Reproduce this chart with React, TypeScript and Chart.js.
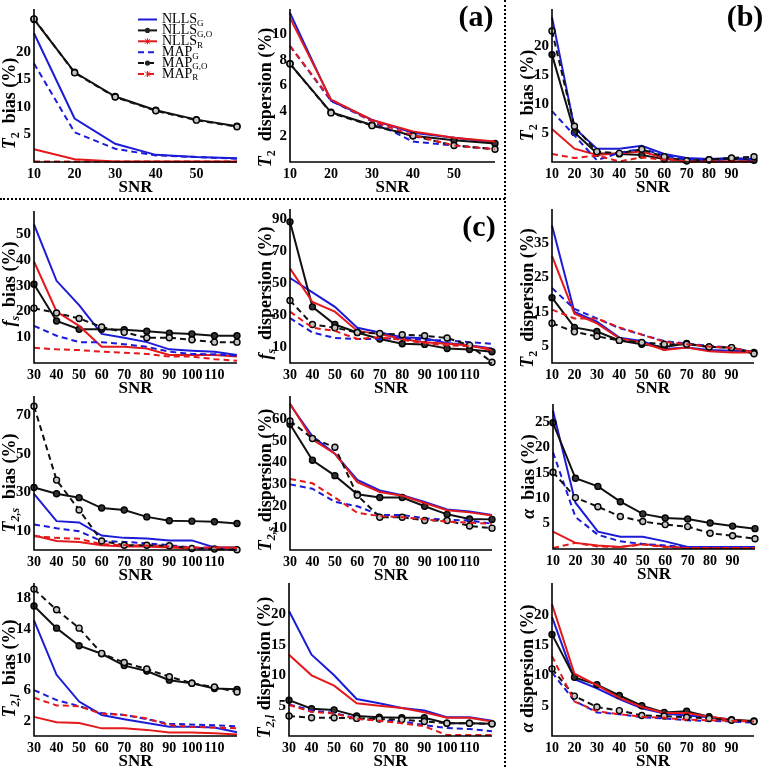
import React, { useEffect, useRef } from 'react';
import { Chart, registerables } from 'chart.js';

Chart.register(...registerables);

// ---------- shared axes ----------
const SNR_A = [10, 20, 30, 40, 50, 60];
const SNR_B = [10, 20, 30, 40, 50, 60, 70, 80, 90, 100];
const SNR_C = [30, 40, 50, 60, 70, 80, 90, 100, 110, 120];
const X_TICKS_A = [10, 20, 30, 40, 50];
const X_TICKS_B = [10, 20, 30, 40, 50, 60, 70, 80, 90];
const X_TICKS_C = [30, 40, 50, 60, 70, 80, 90, 100, 110];

// ---------- (a) T2 bias / dispersion ----------
const a1NllsG = [23.4, 7.9, 3.3, 1.3, 0.9, 0.7];
const a1NllsGO = [25.9, 16.3, 11.9, 9.4, 7.7, 6.5];
const a1NllsR = [2.3, 0.5, 0.1, 0.1, 0.1, 0.1];
const a1MapG = [17.9, 5.4, 2.4, 1.2, 0.9, 0.6];
const a1MapGO = [26.0, 16.2, 11.8, 9.3, 7.6, 6.4];
const a1MapR = [0.1, 0.1, 0.1, 0.1, 0.1, 0.1];
const a1YTicks = [5, 10, 15, 20];

const a2NllsG = [11.7, 4.8, 3.3, 2.3, 1.9, 1.55];
const a2NllsGO = [7.7, 3.9, 2.9, 2.05, 1.7, 1.45];
const a2NllsR = [11.3, 4.9, 3.3, 2.4, 1.9, 1.6];
const a2MapG = [9.1, 4.8, 3.2, 1.6, 1.3, 1.0];
const a2MapGO = [7.7, 3.85, 2.85, 2.05, 1.3, 1.0];
const a2MapR = [9.1, 4.9, 3.2, 2.1, 1.3, 1.0];
const a2YTicks = [2, 4, 6, 8, 10];

// ---------- (b) T2 bias, T2 dispersion, alpha bias, alpha dispersion ----------
const b1NllsG = [25.1, 5.9, 2.3, 2.3, 2.8, 1.4, 0.7, 0.5, 0.7, 0.5];
const b1NllsGO = [18.6, 5.1, 1.5, 1.4, 1.2, 0.5, 0.2, 0.4, 0.5, 0.3];
const b1NllsR = [5.7, 2.3, 1.2, 1.5, 1.8, 0.7, 0.1, 0.1, 0.1, 0.1];
const b1MapG = [8.8, 4.6, 0.3, 1.6, 2.3, 1.1, 0.4, 0.3, 0.5, 0.4];
const b1MapGO = [22.7, 6.2, 1.8, 1.5, 2.2, 0.9, 0.2, 0.4, 0.7, 0.9];
const b1MapR = [1.4, 0.7, 1.1, 0.1, 0.8, 0.4, 0.1, 0.1, 0.1, 0.1];
const b1YTicks = [5, 10, 15, 20];

const b2NllsG = [40.2, 14.9, 12.1, 7.4, 6.4, 4.1, 4.5, 3.8, 3.6, 3.3];
const b2NllsGO = [19.1, 10.4, 9.2, 6.6, 5.5, 4.7, 5.7, 4.7, 4.5, 3.1];
const b2NllsR = [31.3, 14.4, 11.6, 7.2, 6.0, 3.8, 4.5, 3.4, 3.1, 3.1];
const b2MapG = [21.9, 15.8, 13.0, 10.2, 8.3, 6.4, 5.7, 5.0, 4.5, 3.1];
const b2MapGO = [11.6, 9.1, 7.8, 6.6, 6.0, 5.5, 5.5, 4.7, 4.5, 2.7];
const b2MapR = [15.6, 13.0, 13.0, 10.4, 8.3, 6.2, 5.5, 4.8, 4.4, 3.1];
const b2YTicks = [5, 15, 25, 35];

const b3NllsG = [27.2, 9.1, 3.4, 2.4, 2.4, 1.5, 0.4, 0.4, 0.4, 0.4];
const b3NllsGO = [24.8, 13.9, 12.3, 9.3, 6.9, 6.1, 5.9, 5.1, 4.5, 4.0];
const b3NllsR = [3.4, 1.2, 0.7, 0.4, 1.0, 0.5, 0.2, 0.2, 0.2, 0.2];
const b3MapG = [19.0, 6.3, 2.8, 1.5, 1.0, 0.7, 0.4, 0.4, 0.4, 0.4];
const b3MapGO = [15.1, 10.1, 8.3, 6.4, 5.4, 4.8, 4.4, 3.1, 2.6, 2.0];
const b3MapR = [0.2, 1.2, 0.5, 0.4, 0.9, 0.4, 0.2, 0.2, 0.2, 0.2];
const b3YTicks = [5, 10, 15, 20, 25];

const b4NllsG = [19.7, 9.4, 7.9, 6.1, 4.6, 3.7, 3.4, 3.1, 2.6, 2.4];
const b4NllsGO = [16.8, 9.7, 8.5, 6.7, 5.0, 3.9, 4.1, 3.2, 2.7, 2.5];
const b4NllsR = [21.8, 10.3, 8.4, 6.3, 4.8, 3.8, 3.8, 3.2, 2.7, 2.4];
const b4MapG = [10.5, 5.8, 3.9, 3.6, 3.1, 2.9, 2.6, 2.5, 2.4, 2.2];
const b4MapGO = [11.1, 6.6, 4.8, 4.2, 3.4, 3.3, 3.1, 2.9, 2.6, 2.4];
const b4MapR = [13.2, 5.7, 4.1, 3.6, 3.2, 3.0, 2.7, 2.6, 2.5, 2.4];
const b4YTicks = [5, 10, 15, 20];

// ---------- (c) fs, T2,s, T2,l ----------
const c1NllsG = [53.8, 31.9, 22.5, 11.3, 9.8, 8.1, 5.3, 4.8, 4.4, 3.1];
const c1NllsGO = [30.6, 16.3, 13.1, 13.1, 12.9, 12.3, 11.6, 11.3, 10.6, 10.6];
const c1NllsR = [39.4, 20.0, 14.4, 6.3, 6.3, 5.6, 3.1, 3.1, 3.1, 2.5];
const c1MapG = [14.4, 10.6, 8.1, 8.1, 7.3, 6.3, 4.4, 3.5, 3.4, 2.8];
const c1MapGO = [21.3, 19.4, 17.3, 14.0, 11.9, 9.8, 9.8, 9.0, 8.1, 8.1];
const c1MapR = [5.9, 5.3, 5.0, 4.4, 4.0, 3.5, 2.5, 2.5, 1.5, 0.9];
const c1YTicks = [10, 20, 30, 40, 50];

const c2NllsG = [53, 44, 35, 22, 19, 16, 15.4, 12.4, 11, 9];
const c2NllsGO = [88, 35, 24, 19, 15, 12, 11.6, 9, 8.4, 7];
const c2NllsR = [59, 38, 32, 20, 18, 15, 13, 12, 11, 8];
const c2MapG = [28, 19, 15.6, 15, 15, 15.6, 14.4, 14, 13, 12];
const c2MapGO = [39, 24, 22, 19, 18.4, 17.6, 17, 15.6, 11, 0.5];
const c2MapR = [32, 22, 20, 15, 16, 14.4, 12.4, 11, 10.4, 9];
const c2YTicks = [10, 30, 50, 70, 90];

const c3NllsG = [29.2, 15.0, 14.3, 7.5, 6.3, 6.0, 5.0, 5.0, 1.3, 1.3];
const c3NllsGO = [32.5, 29.2, 27.2, 21.8, 20.8, 17.2, 15.2, 15.0, 14.7, 13.8];
const c3NllsR = [7.5, 4.7, 4.2, 2.5, 1.8, 1.8, 1.3, 0.8, 1.3, 1.3];
const c3MapG = [13.3, 11.3, 9.7, 4.7, 4.2, 3.5, 2.5, 1.3, 0.8, 0.5];
const c3MapGO = [74.7, 36.3, 20.8, 4.7, 2.5, 2.5, 2.2, 0.8, 0.5, 0.1];
const c3MapR = [7.2, 6.3, 5.8, 3.0, 2.5, 2.2, 1.8, 1.3, 1.3, 1.0];
const c3YTicks = [10, 30, 50, 70];

const c4NllsG = [66.5, 52, 44, 32, 27.2, 25, 22, 18.5, 17.6, 16];
const c4NllsGO = [57.5, 41, 34, 25.5, 24, 24, 20, 16.3, 14.2, 14];
const c4NllsR = [67, 50.5, 44, 31, 26.5, 24.8, 21.5, 18.2, 17.2, 15.8];
const c4MapG = [30, 28, 22, 20, 16, 16, 14.5, 13.8, 13.5, 12];
const c4MapGO = [59, 51, 47, 25, 15, 15, 13.5, 13.5, 11, 10];
const c4MapR = [32.5, 30.5, 24, 17, 15.5, 15, 14, 13, 12.5, 12];
const c4YTicks = [10, 20, 30, 40, 50, 60];

const c5NllsG = [15.1, 8.0, 4.5, 2.75, 2.2, 1.7, 1.2, 1.2, 1.1, 0.5];
const c5NllsGO = [17.0, 14.1, 11.8, 10.75, 9.2, 8.5, 7.3, 6.9, 6.2, 6.1];
const c5NllsR = [2.5, 1.8, 1.7, 1.0, 1.0, 0.8, 0.45, 0.45, 0.35, 0.2];
const c5MapG = [6.0, 4.7, 3.9, 3.0, 2.75, 2.2, 1.6, 1.5, 1.4, 1.25];
const c5MapGO = [19.2, 16.5, 14.1, 10.8, 9.6, 8.75, 7.75, 6.9, 6.4, 5.75];
const c5MapR = [5.0, 4.0, 3.9, 2.9, 2.75, 2.3, 1.4, 1.2, 1.1, 1.0];
const c5YTicks = [2, 6, 10, 14, 18];

const c6NllsG = [20.6, 13.4, 10.0, 6.1, 5.4, 4.6, 4.2, 3.1, 3.1, 2.5];
const c6NllsGO = [5.9, 4.5, 4.3, 3.3, 3.1, 3.0, 3.0, 2.1, 2.1, 2.0];
const c6NllsR = [13.4, 10.0, 8.3, 5.4, 5.0, 4.6, 3.9, 3.0, 3.0, 2.4];
const c6MapG = [5.2, 4.2, 3.8, 2.9, 2.6, 2.4, 1.8, 1.3, 1.15, 0.8];
const c6MapGO = [3.3, 3.0, 3.0, 2.9, 2.8, 2.7, 2.4, 2.1, 2.1, 2.0];
const c6MapR = [5.1, 4.0, 3.7, 2.8, 2.5, 2.1, 1.6, 0.15, 0.15, 0.15];
const c6YTicks = [5, 10, 15, 20];

// ---------- text ----------
const LEGEND_NAMES: [string, string][] = [
  ['NLLS', 'G'], ['NLLS', 'G,O'], ['NLLS', 'R'], ['MAP', 'G'], ['MAP', 'G,O'], ['MAP', 'R'],
];
type Part = [string, string];
const T_T2_BIAS: Part[] = [['T', 'i'], ['2', 's'], ['  bias (%)', '']];
const T_T2_DISP: Part[] = [['T', 'i'], ['2', 's'], ['  dispersion (%)', '']];
const T_FS_BIAS: Part[] = [['f', 'i'], ['s', 'si'], ['  bias (%)', '']];
const T_FS_DISP: Part[] = [['f', 'i'], ['s', 'si'], ['  dispersion (%)', '']];
const T_T2S_BIAS: Part[] = [['T', 'i'], ['2,s', 'si'], ['  bias (%)', '']];
const T_T2S_DISP: Part[] = [['T', 'i'], ['2,s', 'si'], [' dispersion (%)', '']];
const T_T2L_BIAS: Part[] = [['T', 'i'], ['2,l', 'si'], ['  bias (%)', '']];
const T_T2L_DISP: Part[] = [['T', 'i'], ['2,l', 'si'], [' dispersion (%)', '']];
const T_A_BIAS: Part[] = [['α', 'i'], ['  bias (%)', '']];
const T_A_DISP: Part[] = [['α', 'i'], [' dispersion (%)', '']];

// ---------- styling ----------
const FONT = '"Liberation Serif", "Times New Roman", Times, serif';
const BLUE = '#1c1cd8';
const RED = '#e3191b';
const BLACK = '#111111';
const DASH = [6, 4];
const STYLES = [
  { color: BLUE, dash: [], marker: '' },
  { color: BLACK, dash: [], marker: 'filled' },
  { color: RED, dash: [], marker: '' },
  { color: BLUE, dash: DASH, marker: '' },
  { color: BLACK, dash: DASH, marker: 'open' },
  { color: RED, dash: DASH, marker: '' },
];

const YW = 34; // y-axis band width
const XH = 36; // x-axis band height
const PT = 6;
const PR = 8;

type PanelCfg = {
  box: [number, number, number, number];
  titleShift: number;
  snr: number[];
  xTicks: number[];
  yMax: number;
  yTicks: number[];
  title: Part[];
  series: number[][];
  legend?: boolean;
};

const PANELS: PanelCfg[] = [
  { box: [34, 3, 237, 162], titleShift: 18, snr: SNR_A, xTicks: X_TICKS_A, yMax: 27.8, yTicks: a1YTicks, title: T_T2_BIAS,
    series: [a1NllsG, a1NllsGO, a1NllsR, a1MapG, a1MapGO, a1MapR], legend: true },
  { box: [290, 3, 495, 162], titleShift: 12, snr: SNR_A, xTicks: X_TICKS_A, yMax: 12, yTicks: a2YTicks, title: T_T2_DISP,
    series: [a2NllsG, a2NllsGO, a2NllsR, a2MapG, a2MapGO, a2MapR] },
  { box: [552, 3, 754, 162], titleShift: 10, snr: SNR_B, xTicks: X_TICKS_B, yMax: 26.5, yTicks: b1YTicks, title: T_T2_BIAS,
    series: [b1NllsG, b1NllsGO, b1NllsR, b1MapG, b1MapGO, b1MapR] },
  { box: [34, 205, 237, 363], titleShift: -3, snr: SNR_C, xTicks: X_TICKS_C, yMax: 59, yTicks: c1YTicks, title: T_FS_BIAS,
    series: [c1NllsG, c1NllsGO, c1NllsR, c1MapG, c1MapGO, c1MapR] },
  { box: [290, 203, 492, 363], titleShift: 7, snr: SNR_C, xTicks: X_TICKS_C, yMax: 96, yTicks: c2YTicks, title: T_FS_DISP,
    series: [c2NllsG, c2NllsGO, c2NllsR, c2MapG, c2MapGO, c2MapR] },
  { box: [552, 203, 754, 363], titleShift: 12, snr: SNR_B, xTicks: X_TICKS_B, yMax: 45, yTicks: b2YTicks, title: T_T2_DISP,
    series: [b2NllsG, b2NllsGO, b2NllsR, b2MapG, b2MapGO, b2MapR] },
  { box: [34, 390, 237, 550], titleShift: 10, snr: SNR_C, xTicks: X_TICKS_C, yMax: 80, yTicks: c3YTicks, title: T_T2S_BIAS,
    series: [c3NllsG, c3NllsGO, c3NllsR, c3MapG, c3MapGO, c3MapR] },
  { box: [290, 390, 492, 550], titleShift: 7, snr: SNR_C, xTicks: X_TICKS_C, yMax: 70.4, yTicks: c4YTicks, title: T_T2S_DISP,
    series: [c4NllsG, c4NllsGO, c4NllsR, c4MapG, c4MapGO, c4MapR] },
  { box: [553, 398, 755, 549], titleShift: 0, snr: SNR_B, xTicks: X_TICKS_B, yMax: 28.5, yTicks: b3YTicks, title: T_A_BIAS,
    series: [b3NllsG, b3NllsGO, b3NllsR, b3MapG, b3MapGO, b3MapR] },
  { box: [34, 577, 237, 736], titleShift: 9, snr: SNR_C, xTicks: X_TICKS_C, yMax: 20, yTicks: c5YTicks, title: T_T2L_BIAS,
    series: [c5NllsG, c5NllsGO, c5NllsR, c5MapG, c5MapGO, c5MapR] },
  { box: [289, 577, 492, 736], titleShift: 8, snr: SNR_C, xTicks: X_TICKS_C, yMax: 25.2, yTicks: c6YTicks, title: T_T2L_DISP,
    series: [c6NllsG, c6NllsGO, c6NllsR, c6MapG, c6MapGO, c6MapR] },
  { box: [552, 577, 754, 736], titleShift: 9, snr: SNR_B, xTicks: X_TICKS_B, yMax: 25.3, yTicks: b4YTicks, title: T_A_DISP,
    series: [b4NllsG, b4NllsGO, b4NllsR, b4MapG, b4MapGO, b4MapR] },
];

function drawRich(ctx: CanvasRenderingContext2D, parts: Part[], x: number, y: number, size: number, bold: boolean) {
  const segs = parts.map(([t, f]) => {
    const sub = f.includes('s');
    const it = f.includes('i');
    const sz = sub ? Math.round(size * 0.68) : size;
    const font = `${it ? 'italic ' : ''}${bold ? 'bold ' : ''}${sz}px ${FONT}`;
    ctx.font = font;
    return { t, font, w: ctx.measureText(t).width, dy: sub ? size * 0.32 : 0 };
  });
  const total = segs.reduce((s, g) => s + g.w, 0);
  let cx = x - total / 2;
  ctx.textAlign = 'left';
  ctx.textBaseline = 'middle';
  for (const g of segs) {
    ctx.font = g.font;
    ctx.fillText(g.t, cx, y + g.dy);
    cx += g.w;
  }
}

function drawLegend(ctx: CanvasRenderingContext2D, left: number, top: number) {
  const x0 = left + 104;
  LEGEND_NAMES.forEach(([name, sub], i) => {
    const st = STYLES[i];
    const y = top + 10.5 + i * 10.9;
    ctx.save();
    ctx.strokeStyle = st.color;
    ctx.lineWidth = 2;
    ctx.setLineDash(st.dash);
    ctx.beginPath();
    ctx.moveTo(x0, y);
    ctx.lineTo(x0 + 19, y);
    ctx.stroke();
    ctx.setLineDash([]);
    const mx = x0 + 9.5;
    if (st.marker) {
      ctx.fillStyle = '#222';
      ctx.beginPath();
      ctx.arc(mx, y, 2.6, 0, Math.PI * 2);
      ctx.fill();
    } else if (st.color === RED) {
      ctx.lineWidth = 1;
      ctx.beginPath();
      ctx.moveTo(mx - 2.5, y - 2.5); ctx.lineTo(mx + 2.5, y + 2.5);
      ctx.moveTo(mx - 2.5, y + 2.5); ctx.lineTo(mx + 2.5, y - 2.5);
      ctx.moveTo(mx, y - 3); ctx.lineTo(mx, y + 3);
      ctx.stroke();
    }
    ctx.restore();
    ctx.fillStyle = '#000';
    ctx.textAlign = 'left';
    ctx.textBaseline = 'middle';
    ctx.font = `14px ${FONT}`;
    const tx = x0 + 24;
    ctx.fillText(name, tx, y);
    const w = ctx.measureText(name).width;
    ctx.font = `9px ${FONT}`;
    ctx.fillText(sub, tx + w, y + 4);
  });
}

function Panel({ cfg }: { cfg: PanelCfg }) {
  const ref = useRef<HTMLCanvasElement | null>(null);
  const [cl, ct, cr, cb] = cfg.box;
  const W = cr - cl + YW + PR;
  const H = cb - ct + PT + XH;
  const left = cl - YW;
  const top = ct - PT;

  useEffect(() => {
    if (!ref.current) return;
    const xTickFont = { family: FONT, size: 14, weight: 'bold' as const };
    const yTickFont = { family: FONT, size: 15, weight: 'bold' as const };
    const decor = {
      id: 'decor',
      afterDraw(chart: any) {
        const ctx: CanvasRenderingContext2D = chart.ctx;
        const a = chart.chartArea;
        ctx.save();
        ctx.strokeStyle = '#000';
        ctx.lineWidth = 1.6;
        ctx.setLineDash([]);
        ctx.beginPath();
        ctx.moveTo(a.left, a.top);
        ctx.lineTo(a.left, a.bottom);
        ctx.lineTo(a.right, a.bottom);
        ctx.stroke();
        ctx.fillStyle = '#000';
        ctx.font = `bold 17px ${FONT}`;
        ctx.textAlign = 'center';
        ctx.textBaseline = 'middle';
        ctx.fillText('SNR', (a.left + a.right) / 2, a.bottom + 26);
        ctx.save();
        ctx.translate(10, (a.top + a.bottom) / 2 + cfg.titleShift);
        ctx.rotate(-Math.PI / 2);
        drawRich(ctx, cfg.title, 0, 0, 18, true);
        ctx.restore();
        if (cfg.legend) drawLegend(ctx, a.left, a.top);
        ctx.restore();
      },
    };
    const chart = new Chart(ref.current, {
      type: 'line',
      data: {
        datasets: cfg.series.map((vals, i) => {
          const st = STYLES[i];
          return {
            label: LEGEND_NAMES[i].join('_'),
            data: cfg.snr.map((x, j) => ({ x, y: vals[j] })),
            borderColor: st.color,
            borderWidth: 2,
            borderDash: st.dash,
            tension: 0,
            fill: false,
            clip: false as any,
            order: 5 - i,
            pointRadius: st.marker ? 3 : 0,
            pointHoverRadius: st.marker ? 3 : 0,
            pointBackgroundColor: st.marker === 'open' ? '#c4c4c4' : '#333',
            pointBorderColor: '#000',
            pointBorderWidth: 1.4,
          };
        }),
      },
      options: {
        responsive: false,
        animation: false,
        devicePixelRatio: 1,
        layout: { padding: { top: PT, right: PR, left: 0, bottom: 0 } },
        plugins: { legend: { display: false }, tooltip: { enabled: false } },
        scales: {
          x: {
            type: 'linear',
            min: cfg.snr[0],
            max: cfg.snr[cfg.snr.length - 1],
            grid: { display: false, drawTicks: false },
            border: { display: false },
            ticks: { font: xTickFont, color: '#000', padding: 4, maxRotation: 0, autoSkip: false },
            afterBuildTicks: (s: any) => { s.ticks = cfg.xTicks.map((v) => ({ value: v })); },
            afterFit: (s: any) => { s.height = XH; },
          },
          y: {
            type: 'linear',
            min: 0,
            max: cfg.yMax,
            grid: { display: false, drawTicks: false },
            border: { display: false },
            ticks: { font: yTickFont, color: '#000', padding: 3, autoSkip: false },
            afterBuildTicks: (s: any) => { s.ticks = cfg.yTicks.map((v) => ({ value: v })); },
            afterFit: (s: any) => { s.width = YW; },
          },
        },
      },
      plugins: [decor],
    } as any);
    return () => chart.destroy();
  }, []);

  return (
    <canvas
      ref={ref}
      width={W}
      height={H}
      style={{ position: 'absolute', left, top, width: W, height: H }}
    />
  );
}

const labelStyle: React.CSSProperties = {
  position: 'absolute',
  fontFamily: FONT,
  fontWeight: 'bold',
  fontSize: 30,
  lineHeight: '30px',
  transform: 'translate(-50%, -50%)',
  color: '#000',
  whiteSpace: 'nowrap',
};

export default function App() {
  return (
    <div style={{ position: 'absolute', left: 0, top: 0, width: 767, height: 767, background: '#fff', overflow: 'hidden' }}>
      {PANELS.map((p, i) => <Panel key={i} cfg={p} />)}
      <div style={{ position: 'absolute', left: 0, top: 198, width: 505, height: 0, borderTop: '2px dotted #000' }} />
      <div style={{ position: 'absolute', left: 504, top: 0, width: 0, height: 767, borderLeft: '2px dotted #000' }} />
      <div style={{ ...labelStyle, left: 476, top: 16 }}>(a)</div>
      <div style={{ ...labelStyle, left: 745, top: 16 }}>(b)</div>
      <div style={{ ...labelStyle, left: 479, top: 226 }}>(c)</div>
    </div>
  );
}
